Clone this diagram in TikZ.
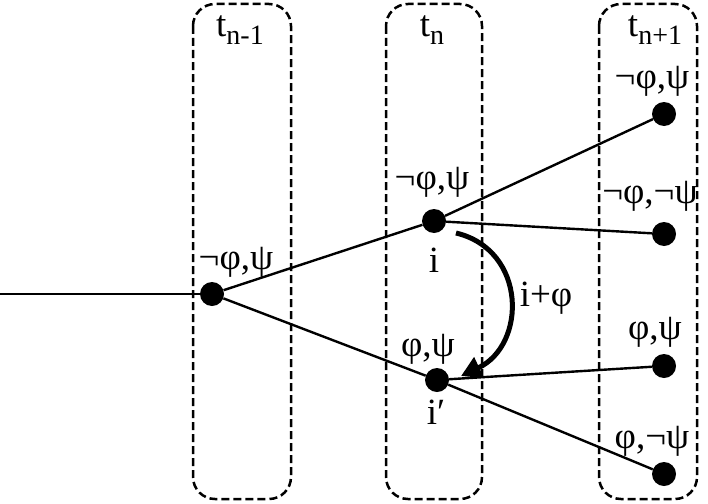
\documentclass[tikz,border=0pt]{standalone}
\usepackage{fontspec}
\setmainfont{Liberation Serif}
\usetikzlibrary{arrows.meta}
\newcommand{\tsub}[1]{\raisebox{-0.45ex}{\fontsize{28}{30}\selectfont #1}}
\begin{document}
\begin{tikzpicture}[x=1pt,y=-1pt,
  dot/.style={circle,fill=black,inner sep=0pt,minimum size=24pt},
  frame/.style={draw,dash pattern=on 8pt off 4pt,line width=2.5pt,rounded corners=22pt},
  lbl/.style={font=\fontsize{37}{39}\selectfont,inner sep=0pt},
  edge/.style={line width=2.4pt},
  curvearrow/.style={line width=5pt,-{Triangle[length=20pt,width=22pt]}}]
\useasboundingbox (0,0) rectangle (708,503);
% frames
\draw[frame] (193,4) rectangle (291,499);
\draw[frame] (386,4) rectangle (482,499);
\draw[frame] (599,4) rectangle (697,499);
% time labels
\node[lbl] (tl) at (240,30) {t\tsub{n-1}};
\node[lbl] (tm) at (432,30) {t\tsub{n}};
\node[lbl] (tr) at (655,30) {t\tsub{n+1}};
% nodes
\coordinate (s) at (0,294);
\node[dot] (a) at (212,294) {};
\node[dot] (b) at (434,221) {};
\node[dot] (c) at (437,380) {};
\node[dot] (d1) at (664,114) {};
\node[dot] (d2) at (664,234) {};
\node[dot] (d3) at (664,366) {};
\node[dot] (d4) at (664,474) {};
% edges
\draw[edge] (s) -- (a);
\draw[edge] (a) -- (b);
\draw[edge] (a) -- (c);
\draw[edge] (b) -- (d1);
\draw[edge] (b) -- (d2);
\draw[edge] (c) -- (d3);
\draw[edge] (c) -- (d4);
% labels
\node[lbl] (la) at (236,262) {¬φ,ψ};
\node[lbl] (lb) at (432,182) {¬φ,ψ};
\node[lbl] (lc) at (428,349) {φ,ψ};
\node[lbl] (ld1) at (652,81) {¬φ,ψ};
\node[lbl] (ld2) at (650,196) {¬φ,¬ψ};
\node[lbl] (ld3) at (655,332) {φ,ψ};
\node[lbl] (ld4) at (652,441) {φ,¬ψ};
\node[lbl] (li) at (434,260) {i};
\node[lbl] (lip) at (436,412) {i′};
% curved arrow
\coordinate (p1) at ([shift={(22,12)}]b.center);
\coordinate (p2) at ([shift={(24,-4)}]c.center);
\draw[curvearrow] (p1) .. controls (527,250) and (527,345) .. (p2);
\node[lbl] (lif) at (546,298) {i+φ};
\end{tikzpicture}
\end{document}
